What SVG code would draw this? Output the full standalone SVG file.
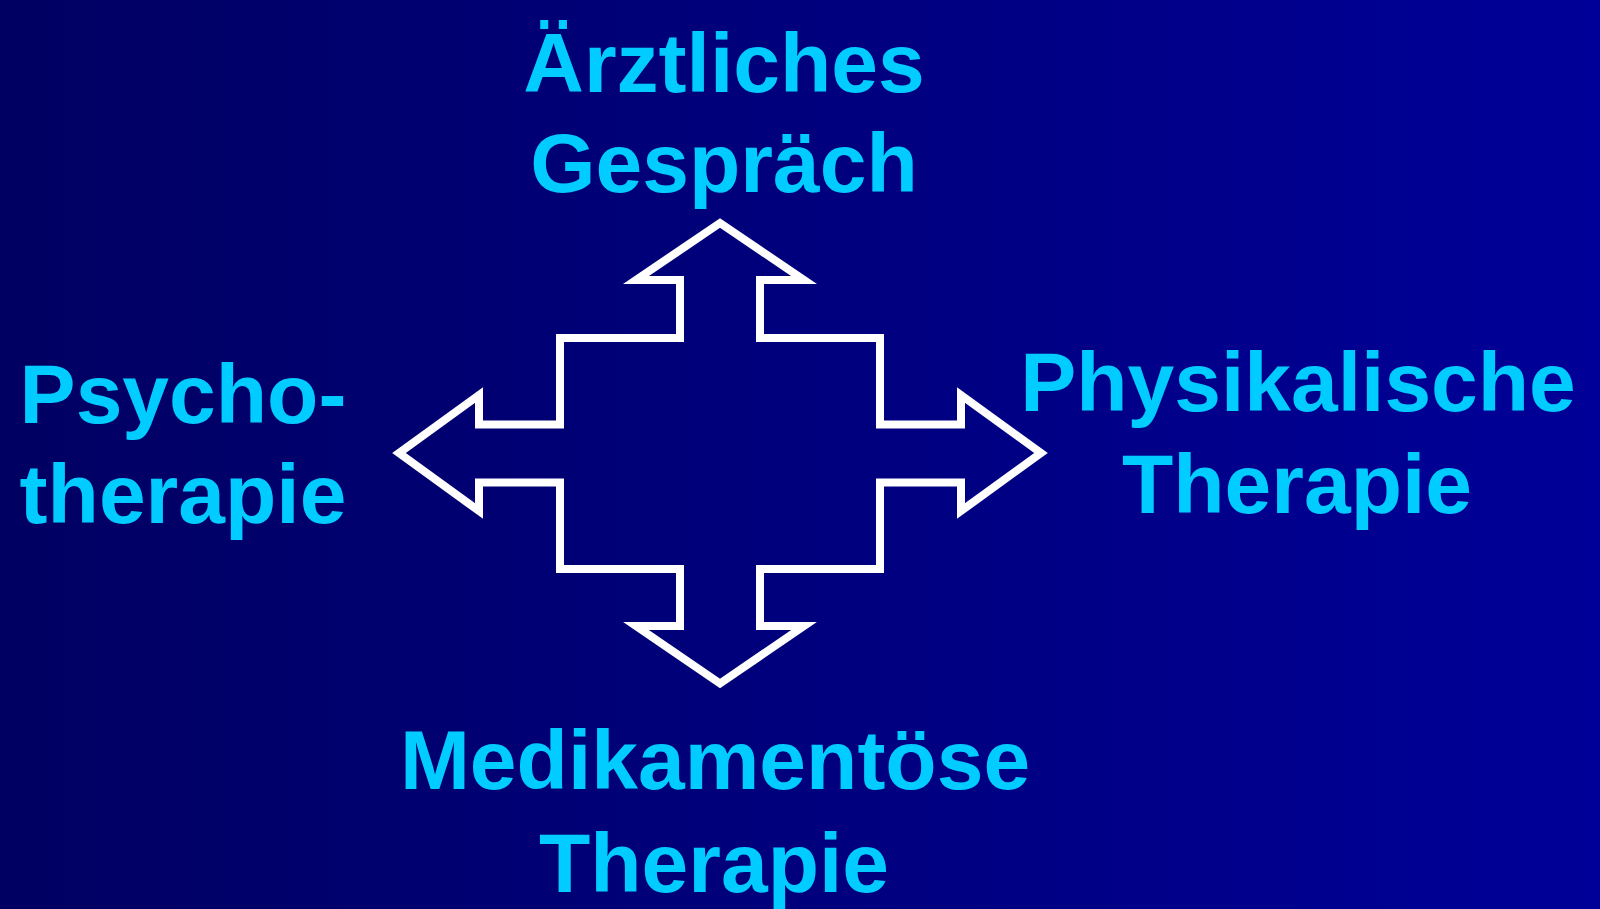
<svg xmlns="http://www.w3.org/2000/svg" width="1600" height="909" viewBox="0 0 1600 909">
  <defs>
    <linearGradient id="bg" x1="0" y1="0" x2="1" y2="0">
      <stop offset="0" stop-color="#000062"/>
      <stop offset="1" stop-color="#000098"/>
    </linearGradient>
    <style>
      .lbl { font-family: "Liberation Sans", Arial, sans-serif; font-weight: bold; font-size: 84px; fill: #00CCFF; text-anchor: middle; }
      .arrow { fill: none; stroke: #FFFFFF; stroke-width: 8; stroke-linejoin: miter; stroke-miterlimit: 10; }
    </style>
  </defs>
  <rect x="0" y="0" width="1600" height="909" fill="url(#bg)"/>
  <g id="connectors">
    <polygon class="arrow" points="720,223 804,280 760,280 760,338 880,338 880,424.5 961,424.5 961,395 1041,453 961,511 961,482.5 880,482.5 880,569 760,569 760,626 804,626 720,683.5 636,626 680,626 680,569 560,569 560,482.5 479,482.5 479,511 399,453 479,395 479,424.5 560,424.5 560,338 680,338 680,280 636,280"/>
  </g>
  <g id="node-top">
    <text class="lbl" x="724" y="92">Ärztliches</text>
    <text class="lbl" x="724" y="192">Gespräch</text>
  </g>
  <g id="node-left">
    <text class="lbl" x="183" y="423">Psycho-</text>
    <text class="lbl" x="183" y="523">therapie</text>
  </g>
  <g id="node-right">
    <text class="lbl" x="1298" y="411">Physikalische</text>
    <text class="lbl" x="1297" y="513">Therapie</text>
  </g>
  <g id="node-bottom">
    <text class="lbl" x="715" y="789">Medikamentöse</text>
    <text class="lbl" x="714" y="892">Therapie</text>
  </g>
</svg>
